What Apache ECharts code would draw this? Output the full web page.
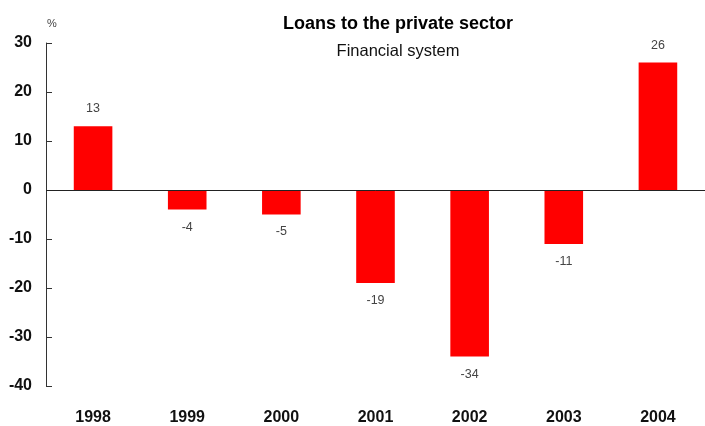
<!DOCTYPE html>
<html>
<head>
<meta charset="utf-8">
<script src="https://cdn.jsdelivr.net/npm/echarts@6/dist/echarts.min.js"></script>
<style>
  html, body { margin: 0; padding: 0; background: #fff; }
  #chart { width: 705px; height: 426px; }
</style>
</head>
<body>
<div id="chart"></div>
<script>
// Annual change in loans to the private sector, financial system (%)
var years = ['1998', '1999', '2000', '2001', '2002', '2003', '2004'];
var loanGrowth = [13, -4, -5, -19, -34, -11, 26];
var yTicks = { min: -40, max: 30, step: 10 };

var chart = echarts.init(document.getElementById('chart'));

// Positive values get their label above the bar, negative ones below it
var barData = loanGrowth.map(function (v) {
  return { value: v, label: { position: v >= 0 ? 'top' : 'bottom' } };
});

chart.setOption({
  animation: false,
  backgroundColor: '#ffffff',
  textStyle: { fontFamily: 'Liberation Sans, Arial, sans-serif' },
  title: [
    {
      text: 'Loans to the private sector',
      left: 393, top: 10, textAlign: 'center',
      textStyle: { fontSize: 18, fontWeight: 'bold', color: '#000', fontFamily: 'Liberation Sans' }
    },
    {
      text: 'Financial system',
      left: 393, top: 38, textAlign: 'center',
      textStyle: { fontSize: 16.5, fontWeight: 'normal', color: '#111', fontFamily: 'Liberation Sans' }
    },
    {
      text: '%',
      left: 47, top: 13, textAlign: 'center',
      textStyle: { fontSize: 11, fontWeight: 'normal', color: '#444' }
    }
  ],
  grid: { left: 46, right: -4, top: 43, bottom: 36, containLabel: false },
  xAxis: {
    type: 'category',
    data: years,
    axisLine: { show: false },
    axisTick: { show: false },
    axisLabel: { fontSize: 16, fontWeight: 'bold', color: '#111', margin: 24 },
    splitLine: { show: false }
  },
  yAxis: {
    type: 'value',
    min: yTicks.min, max: yTicks.max, interval: yTicks.step,
    axisLine: { show: true, lineStyle: { color: '#333', width: 1 } },
    axisTick: { show: true, inside: true, length: 6, lineStyle: { color: '#333' } },
    axisLabel: { fontSize: 16, fontWeight: 'bold', color: '#111', margin: 14 },
    splitLine: { show: false }
  },
  series: [{
    type: 'bar',
    data: barData,
    barWidth: '41%',
    itemStyle: { color: '#ff0000' },
    label: { show: true, distance: 11, fontSize: 12.5, color: '#444' },
    markLine: {
      silent: true,
      symbol: 'none',
      label: { show: false },
      lineStyle: { color: '#222', width: 1, type: 'solid' },
      data: [{ yAxis: 0 }]
    }
  }]
});
</script>
</body>
</html>
